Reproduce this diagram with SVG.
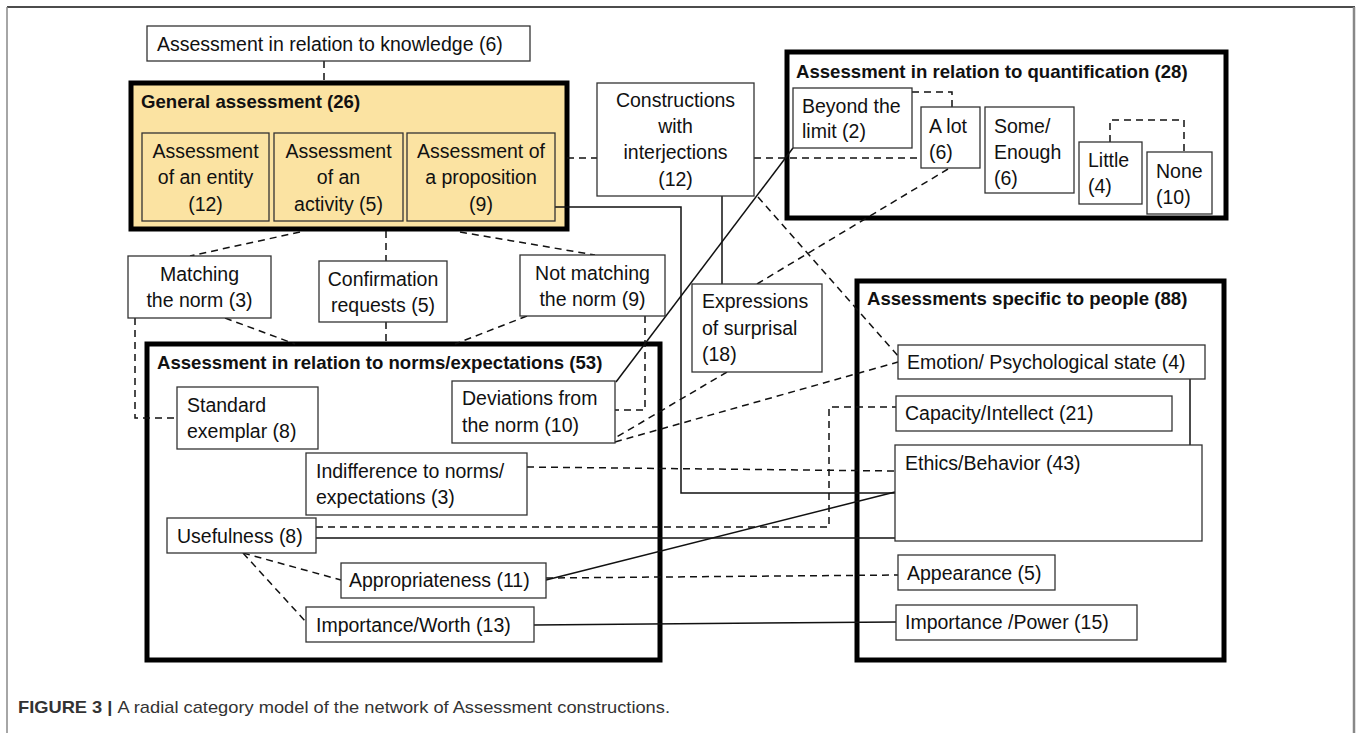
<svg xmlns="http://www.w3.org/2000/svg" width="1357" height="733" viewBox="0 0 1357 733">
<style>
.t{font-family:"Liberation Sans",Arial,sans-serif;font-size:19.5px;fill:#111}
.b{font-family:"Liberation Sans",Arial,sans-serif;font-size:18.6px;font-weight:bold;fill:#111}
.c{text-anchor:middle}
.n{fill:#fff;stroke:#333;stroke-width:1.3}
.y{fill:#FBE3A2;stroke:#333;stroke-width:1.3}
.g{fill:none;stroke:#000;stroke-width:5}
.s{fill:none;stroke:#111;stroke-width:1.5}
.d{fill:none;stroke:#111;stroke-width:1.5;stroke-dasharray:7 5}
.cap{font-family:"Liberation Sans",Arial,sans-serif;font-size:17px;fill:#333}
</style>
<rect width="1357" height="733" fill="#fff"/>
<g id="frame">
<line x1="7" y1="7" x2="1355" y2="7" stroke="#111" stroke-width="1.5"/>
<line x1="7" y1="7" x2="7" y2="733" stroke="#888" stroke-width="1.5"/>
<line x1="1354" y1="7" x2="1354" y2="733" stroke="#888" stroke-width="2.5"/>
</g>
<g id="group-boxes">
<rect id="general" x="131" y="83" width="436" height="146" fill="#FBE3A2" stroke="#000" stroke-width="5"/>
<rect id="quantification" class="g" x="787" y="52" width="439" height="166"/>
<rect id="norms" class="g" x="147" y="344" width="513" height="316"/>
<rect id="people" class="g" x="857" y="281" width="367" height="379"/>
<text class="b" x="141" y="108">General assessment (26)</text>
<text class="b" x="796" y="78">Assessment in relation to quantification (28)</text>
<text class="b" x="157" y="369">Assessment in relation to norms/expectations (53)</text>
<text class="b" x="867" y="305">Assessments specific to people (88)</text>
</g>
<g id="connectors">
<line class="d" x1="324" y1="61" x2="324" y2="83"/>
<line class="d" x1="567" y1="158" x2="597" y2="158"/>
<line class="d" x1="754" y1="158" x2="921" y2="158"/>
<polyline class="d" points="912,92 952,92 952,107"/>
<polyline class="d" points="1110,142 1110,120 1184,120 1184,152"/>
<line class="s" x1="616" y1="382" x2="793" y2="148"/>
<line class="s" x1="722" y1="196" x2="722" y2="284"/>
<line class="d" x1="757" y1="284" x2="948" y2="169"/>
<line class="d" x1="758" y1="197" x2="898" y2="356"/>
<line class="d" x1="727" y1="372" x2="615" y2="438"/>
<line class="d" x1="615" y1="442" x2="898" y2="362"/>
<polyline class="s" points="555,207 681,207 681,493 895,493"/>
<line class="s" x1="1190" y1="379" x2="1190" y2="445"/>
<line class="d" x1="300" y1="232" x2="190" y2="256"/>
<line class="d" x1="386" y1="231" x2="386" y2="261"/>
<line class="d" x1="460" y1="232" x2="595" y2="255"/>
<line class="d" x1="225" y1="318" x2="295" y2="344"/>
<line class="d" x1="386" y1="322" x2="386" y2="344"/>
<line class="d" x1="527" y1="316" x2="455" y2="344"/>
<polyline class="d" points="135,318 135,418 177,418"/>
<polyline class="d" points="645,316 645,410 615,410"/>
<line class="d" x1="527" y1="467" x2="895" y2="471"/>
<polyline class="d" points="316,527 829,527 829,407 896,407"/>
<line class="s" x1="316" y1="538" x2="895" y2="538"/>
<line class="s" x1="546" y1="580" x2="895" y2="492"/>
<line class="d" x1="546" y1="578" x2="898" y2="575"/>
<line class="s" x1="534" y1="625" x2="896" y2="622"/>
<line class="d" x1="243" y1="553" x2="341" y2="580"/>
<line class="d" x1="243" y1="553" x2="306" y2="622"/>
</g>
<g id="knowledge"><rect class="n" x="147" y="26" width="383" height="35"/><text class="t" x="157" y="51">Assessment in relation to knowledge (6)</text></g>
<g id="entity"><rect class="y" x="142" y="133" width="127" height="88"/><text class="t c" x="205.5" y="158">Assessment</text><text class="t c" x="205.5" y="184">of an entity</text><text class="t c" x="205.5" y="211">(12)</text></g>
<g id="activity"><rect class="y" x="274" y="133" width="129" height="88"/><text class="t c" x="338.5" y="158">Assessment</text><text class="t c" x="338.5" y="184">of an</text><text class="t c" x="338.5" y="211">activity (5)</text></g>
<g id="proposition"><rect class="y" x="407" y="133" width="148" height="88"/><text class="t c" x="481" y="158">Assessment of</text><text class="t c" x="481" y="184">a proposition</text><text class="t c" x="481" y="211">(9)</text></g>
<g id="constructions"><rect class="n" x="597" y="83" width="157" height="113"/><text class="t c" x="675.5" y="107">Constructions</text><text class="t c" x="675.5" y="133">with</text><text class="t c" x="675.5" y="159">interjections</text><text class="t c" x="675.5" y="186">(12)</text></g>
<g id="beyond"><rect class="n" x="793" y="88" width="119" height="60"/><text class="t" x="802" y="113">Beyond the</text><text class="t" x="802" y="138">limit (2)</text></g>
<g id="alot"><rect class="n" x="921" y="107" width="59" height="61"/><text class="t" x="929" y="133">A lot</text><text class="t" x="929" y="159">(6)</text></g>
<g id="some"><rect class="n" x="985" y="107" width="89" height="86"/><text class="t" x="994" y="133">Some/</text><text class="t" x="994" y="159">Enough</text><text class="t" x="994" y="185">(6)</text></g>
<g id="little"><rect class="n" x="1079" y="142" width="63" height="62"/><text class="t" x="1088" y="167">Little</text><text class="t" x="1088" y="193">(4)</text></g>
<g id="none"><rect class="n" x="1147" y="152" width="65" height="62"/><text class="t" x="1156" y="178">None</text><text class="t" x="1156" y="204">(10)</text></g>
<g id="matching"><rect class="n" x="128" y="256" width="143" height="62"/><text class="t c" x="199.5" y="281">Matching</text><text class="t c" x="199.5" y="307">the norm (3)</text></g>
<g id="confirmation"><rect class="n" x="319" y="261" width="128" height="61"/><text class="t c" x="383" y="286">Confirmation</text><text class="t c" x="383" y="312">requests (5)</text></g>
<g id="notmatching"><rect class="n" x="520" y="255" width="145" height="61"/><text class="t c" x="592.5" y="280">Not matching</text><text class="t c" x="592.5" y="306">the norm (9)</text></g>
<g id="surprisal"><rect class="n" x="692" y="284" width="130" height="88"/><text class="t" x="702" y="308">Expressions</text><text class="t" x="702" y="335">of surprisal</text><text class="t" x="702" y="361">(18)</text></g>
<g id="standard"><rect class="n" x="177" y="387" width="141" height="62"/><text class="t" x="187" y="412">Standard</text><text class="t" x="187" y="438">exemplar (8)</text></g>
<g id="deviations"><rect class="n" x="452" y="381" width="163" height="62"/><text class="t" x="462" y="405">Deviations from</text><text class="t" x="462" y="432">the norm (10)</text></g>
<g id="indifference"><rect class="n" x="306" y="453" width="221" height="62"/><text class="t" x="316" y="478">Indifference to norms/</text><text class="t" x="316" y="504">expectations (3)</text></g>
<g id="usefulness"><rect class="n" x="167" y="518" width="149" height="35"/><text class="t" x="177" y="543">Usefulness (8)</text></g>
<g id="appropriateness"><rect class="n" x="341" y="563" width="205" height="35"/><text class="t" x="349" y="587">Appropriateness (11)</text></g>
<g id="worth"><rect class="n" x="306" y="607" width="228" height="35"/><text class="t" x="316" y="632">Importance/Worth (13)</text></g>
<g id="emotion"><rect class="n" x="898" y="345" width="307" height="34"/><text class="t" x="907" y="369">Emotion/ Psychological state (4)</text></g>
<g id="capacity"><rect class="n" x="896" y="396" width="276" height="35"/><text class="t" x="905" y="420">Capacity/Intellect (21)</text></g>
<g id="ethics"><rect class="n" x="895" y="445" width="307" height="96"/><text class="t" x="905" y="470">Ethics/Behavior (43)</text></g>
<g id="appearance"><rect class="n" x="898" y="555" width="157" height="35"/><text class="t" x="907" y="580">Appearance (5)</text></g>
<g id="power"><rect class="n" x="896" y="605" width="241" height="35"/><text class="t" x="905" y="629">Importance /Power (15)</text></g>
<g id="caption"><text class="cap" x="18" y="713" textLength="652" lengthAdjust="spacingAndGlyphs"><tspan font-weight="bold">FIGURE 3 | </tspan>A radial category model of the network of Assessment constructions.</text></g>
</svg>
